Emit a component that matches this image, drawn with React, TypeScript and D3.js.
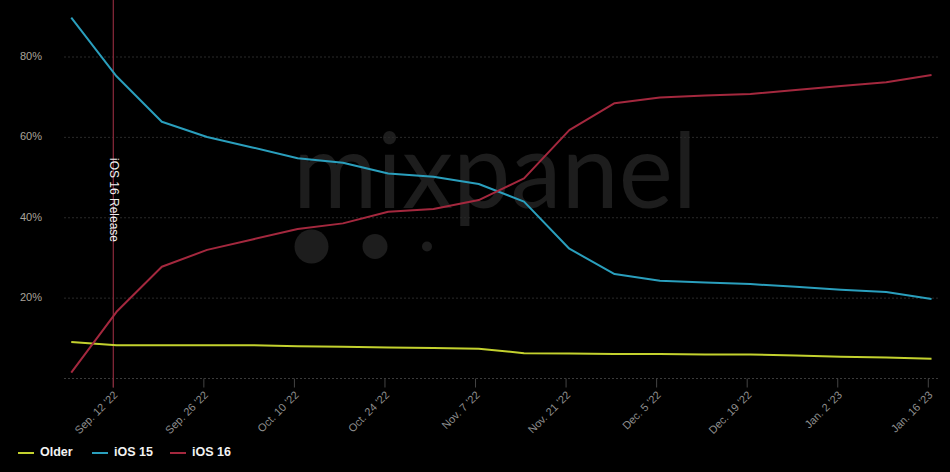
import React, { useEffect, useRef } from 'react'
import * as d3 from 'd3'

const weeks: string[] = [
  '2022-09-05', '2022-09-12', '2022-09-19', '2022-09-26', '2022-10-03',
  '2022-10-10', '2022-10-17', '2022-10-24', '2022-10-31', '2022-11-07',
  '2022-11-14', '2022-11-21', '2022-11-28', '2022-12-05', '2022-12-12',
  '2022-12-19', '2022-12-26', '2023-01-02', '2023-01-09', '2023-01-16'
]

const olderValues: number[] = [
  9.1, 8.25, 8.3, 8.3, 8.3, 8.0, 7.9, 7.7, 7.6, 7.4,
  6.3, 6.2, 6.1, 6.1, 6.0, 6.0, 5.7, 5.4, 5.2, 4.9
]

const ios15Values: number[] = [
  89.8, 75.2, 63.9, 60.1, 57.5, 54.8, 53.7, 51.0, 50.2, 48.4,
  44.0, 32.3, 26.0, 24.3, 23.9, 23.5, 22.8, 22.1, 21.5, 19.8
]

const ios16Values: number[] = [
  1.45, 16.6, 27.8, 32.0, 34.6, 37.2, 38.6, 41.5, 42.2, 44.4,
  49.8, 61.8, 68.5, 69.9, 70.4, 70.8, 71.8, 72.8, 73.7, 75.5
]

const tickDates: string[] = [
  '2022-09-12', '2022-09-26', '2022-10-10', '2022-10-24', '2022-11-07',
  '2022-11-21', '2022-12-05', '2022-12-19', '2023-01-02', '2023-01-16'
]

const yTicks: number[] = [20, 40, 60, 80]

const releaseDate = '2022-09-12'

interface Series {
  name: string
  color: string
  values: number[]
}

const series: Series[] = [
  { name: 'Older', color: '#c3d12e', values: olderValues },
  { name: 'iOS 15', color: '#2a9fbd', values: ios15Values },
  { name: 'iOS 16', color: '#a4283e', values: ios16Values }
]

const fmtTick = (d: Date) => {
  const mon = d3.timeFormat('%b')(d)
  return `${mon}. ${d.getDate()} '${d3.timeFormat('%y')(d)}`
}

const App: React.FC = () => {
  const svgRef = useRef<SVGSVGElement>(null)

  useEffect(() => {
    if (!svgRef.current) return
    const svg = d3.select(svgRef.current)
    svg.selectAll('*').remove()

    const width = 950
    const height = 472
    const font = '"Liberation Sans", Arial, sans-serif'

    svg.append('rect').attr('width', width).attr('height', height).attr('fill', '#000')

    const parse = (s: string) => new Date(s + 'T00:00:00')
    // data points sit half a day after the tick marks
    const parsePoint = (s: string) => new Date(s + 'T12:00:00')

    const x = d3.scaleTime()
      .domain([parse('2022-09-12'), parse('2023-01-16')])
      .range([113.3, 928.3])
    const y = d3.scaleLinear().domain([0, 80]).range([378.5, 57])

    const plotLeft = 64
    const plotRight = 940

    // watermark
    const wm = svg.append('g')
    wm.append('text')
      .attr('x', 293)
      .attr('y', 208)
      .attr('textLength', 404)
      .attr('lengthAdjust', 'spacingAndGlyphs')
      .style('font-family', 'Lato, "Open Sans", sans-serif')
      .style('font-weight', 400)
      .style('font-size', '104px')
      .style('fill', '#1d1d1d')
      .text('mixpanel')
    const dots = [[311.5, 246.5, 17], [375, 246.5, 12.5], [427, 246.5, 5]]
    dots.forEach(([cx, cy, r]) => {
      wm.append('circle').attr('cx', cx).attr('cy', cy).attr('r', r).attr('fill', '#1d1d1d')
    })

    // gridlines
    const grid = svg.append('g')
    ;[0, ...yTicks].forEach(v => {
      grid.append('line')
        .attr('x1', plotLeft).attr('x2', plotRight)
        .attr('y1', y(v)).attr('y2', y(v))
        .attr('stroke', v === 0 ? '#3a3a3a' : '#2a2a2a')
        .attr('stroke-width', 1)
        .attr('stroke-dasharray', '2,2')
    })

    // y labels
    yTicks.forEach(v => {
      svg.append('text')
        .attr('x', 42)
        .attr('y', y(v))
        .attr('text-anchor', 'end')
        .attr('dominant-baseline', 'middle')
        .style('font-family', font)
        .style('font-size', '11px')
        .style('fill', '#aaa49a')
        .text(`${v}%`)
    })

    // x ticks and labels
    tickDates.map(parse).forEach(d => {
      const tx = x(d)
      svg.append('line')
        .attr('x1', tx).attr('x2', tx)
        .attr('y1', y(0)).attr('y2', y(0) + 9)
        .attr('stroke', '#444')
        .attr('stroke-width', 1)
      svg.append('text')
        .attr('transform', `translate(${tx + 3},${y(0) + 15}) rotate(-45)`)
        .attr('text-anchor', 'end')
        .attr('dominant-baseline', 'middle')
        .style('font-family', font)
        .style('font-size', '11px')
        .style('fill', '#8e8e8e')
        .text(fmtTick(d))
    })

    // release annotation
    const rx = x(parse(releaseDate))
    svg.append('line')
      .attr('x1', rx).attr('x2', rx)
      .attr('y1', 0).attr('y2', y(0) + 9)
      .attr('stroke', '#8c2a3c')
      .attr('stroke-width', 1.2)
    svg.append('text')
      .attr('transform', `translate(${rx + 5},158) rotate(90)`)
      .attr('text-anchor', 'start')
      .attr('dominant-baseline', 'hanging')
      .style('font-family', font)
      .style('font-size', '12px')
      .style('fill', '#f0f0f0')
      .text('iOS 16 Release')

    // lines
    const pts = weeks.map(parsePoint)
    const line = d3.line<number>()
      .x((_, i) => x(pts[i]))
      .y(v => y(v))

    series.forEach(s => {
      svg.append('path')
        .datum(s.values)
        .attr('d', line)
        .attr('fill', 'none')
        .attr('stroke', s.color)
        .attr('stroke-width', 2)
        .attr('stroke-linejoin', 'round')
    })

    // legend
    const legendPos = [18, 92, 170]
    series.forEach((s, i) => {
      const lx = legendPos[i]
      svg.append('line')
        .attr('x1', lx).attr('x2', lx + 16)
        .attr('y1', 453).attr('y2', 453)
        .attr('stroke', s.color)
        .attr('stroke-width', 2)
      svg.append('text')
        .attr('x', lx + 22)
        .attr('y', 453)
        .attr('dominant-baseline', 'middle')
        .style('font-family', font)
        .style('font-weight', 'bold')
        .style('font-size', '12.5px')
        .style('fill', '#f2f2f2')
        .text(s.name)
    })
  }, [])

  return (
    <div style={{ position: 'absolute', left: 0, top: 0, width: 950, height: 472, background: '#000' }}>
      <svg ref={svgRef} width={950} height={472} style={{ display: 'block' }}></svg>
    </div>
  )
}

export default App
